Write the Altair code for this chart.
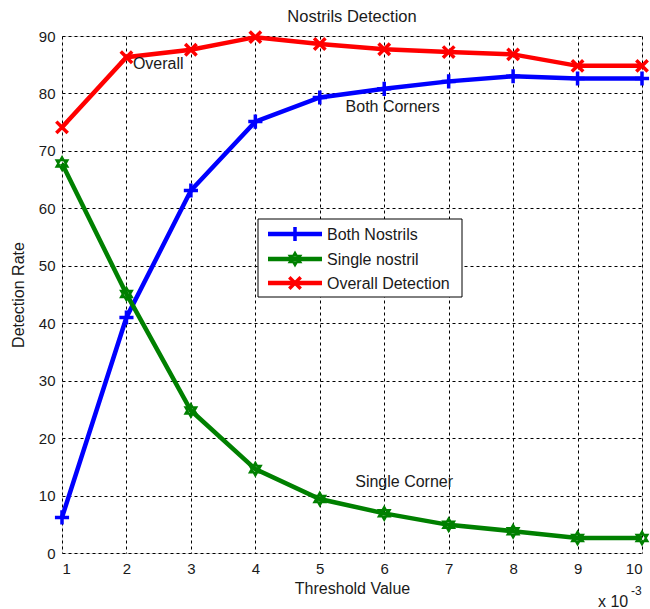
import altair as alt
import pandas as pd

thresholds = [1, 2, 3, 4, 5, 6, 7, 8, 9, 10]
both_nostrils = [6.2, 41.0, 63.1, 75.1, 79.3, 80.8, 82.1, 83.0, 82.6, 82.6]
single_nostril = [67.8, 45.1, 24.8, 14.6, 9.4, 6.9, 4.9, 3.8, 2.6, 2.6]
overall = [74.1, 86.3, 87.6, 89.8, 88.6, 87.7, 87.2, 86.8, 84.8, 84.8]

series_names = ["Both Nostrils", "Single nostril", "Overall Detection"]
series_colors = ["#0000FF", "#008000", "#FF0000"]
series_values = [both_nostrils, single_nostril, overall]

PLUS = "M-1,0L1,0M0,-1L0,1"
XMARK = "M-1,-1L1,1M-1,1L1,-1"
HEX = "M0,-1L0.866,0.5L-0.866,0.5Z M0,1L0.866,-0.5L-0.866,-0.5Z"
series_shapes = [PLUS, HEX, XMARK]
series_filled = [False, True, False]
series_sizes = [200, 170, 130]

annotations = [
    {"label": "Overall", "x": 2.1, "y": 85.2},
    {"label": "Both Corners", "x": 5.4, "y": 77.7},
    {"label": "Single Corner", "x": 5.55, "y": 12.4},
]

FONT = "Liberation Sans"
TXT = "#1a1a1a"

rows = []
for name, vals in zip(series_names, series_values):
    for t, v in zip(thresholds, vals):
        rows.append({"series": name, "threshold": t, "rate": v})
df = pd.DataFrame(rows)

xscale = alt.Scale(domain=[1, 10], nice=False)
yscale = alt.Scale(domain=[0, 90], nice=False)

x_enc = alt.X(
    "threshold:Q", scale=xscale, title="Threshold Value",
    axis=alt.Axis(values=thresholds, format="d", grid=True, gridDash=[3, 3],
                  gridColor="black", gridOpacity=1, ticks=False, domain=False,
                  labelPadding=8, titlePadding=4, labelFont=FONT, titleFont=FONT,
                  labelFontSize=15, titleFontSize=16, labelColor=TXT,
                  titleColor=TXT, titleFontWeight="normal"),
)
y_enc = alt.Y(
    "rate:Q", scale=yscale, title="Detection Rate",
    axis=alt.Axis(values=list(range(0, 91, 10)), grid=True, gridDash=[3, 3],
                  gridColor="black", gridOpacity=1, ticks=False, domain=False,
                  labelPadding=7, titlePadding=12, labelFont=FONT, titleFont=FONT,
                  labelFontSize=15, titleFontSize=16, labelColor=TXT,
                  titleColor=TXT, titleFontWeight="normal"),
)

layers = []
for name, color, shape, filled, size in zip(series_names, series_colors, series_shapes, series_filled, series_sizes):
    sub = df[df["series"] == name]
    base = alt.Chart(sub)
    layers.append(base.mark_line(color=color, strokeWidth=4.5).encode(x=x_enc, y=y_enc))
    if filled:
        pm = base.mark_point(shape=shape, filled=True, color=color, size=size, opacity=1,
                             stroke=color, strokeWidth=2)
    else:
        pm = base.mark_point(shape=shape, filled=False, color=color, size=size, opacity=1,
                             strokeWidth=3.5)
    layers.append(pm.encode(x=x_enc, y=y_enc))

ann_df = pd.DataFrame(annotations)
layers.append(
    alt.Chart(ann_df).mark_text(align="left", baseline="middle", font=FONT, fontSize=16,
                                color=TXT).encode(x="x:Q", y="y:Q", text="label:N")
)

# legend box (pixel layout inside the plot area)
LBOX = (196, 183, 400, 261)
legend_rows_y = [198, 223, 247]
layers.append(
    alt.Chart(pd.DataFrame({"k": [0]})).mark_rect(fill="white", stroke="black", strokeWidth=1).encode(
        x=alt.value(LBOX[0]), x2=alt.value(LBOX[2]), y=alt.value(LBOX[1]), y2=alt.value(LBOX[3])
    )
)
for name, color, shape, filled, size, ly in zip(series_names, series_colors, series_shapes, series_filled, series_sizes, legend_rows_y):
    ldf = pd.DataFrame({"series": [name]})
    lb = alt.Chart(ldf)
    layers.append(lb.mark_rule(color=color, strokeWidth=4.5).encode(
        x=alt.value(206), x2=alt.value(260), y=alt.value(ly)))
    if filled:
        pm = lb.mark_point(shape=shape, filled=True, color=color, size=size, opacity=1,
                           stroke=color, strokeWidth=2)
    else:
        pm = lb.mark_point(shape=shape, filled=False, color=color, size=size, opacity=1,
                           strokeWidth=3.5)
    layers.append(pm.encode(x=alt.value(233), y=alt.value(ly)))
    layers.append(lb.mark_text(align="left", baseline="middle", font=FONT, fontSize=16,
                               color=TXT).encode(x=alt.value(265), y=alt.value(ly + 1), text="series:N"))

# "x 10^-3" exponent label
layers.append(alt.Chart(pd.DataFrame({"t": ["x 10"]})).mark_text(
    align="left", baseline="middle", font=FONT, fontSize=16, color=TXT).encode(
    x=alt.value(536), y=alt.value(566), text="t:N"))
layers.append(alt.Chart(pd.DataFrame({"t": ["-3"]})).mark_text(
    align="left", baseline="middle", font=FONT, fontSize=12, color=TXT).encode(
    x=alt.value(569), y=alt.value(555), text="t:N"))

chart = alt.layer(*layers).properties(
    width=580, height=517,
    title=alt.TitleParams("Nostrils Detection", font=FONT, fontSize=16.5, fontWeight="normal",
                          color=TXT, anchor="middle", offset=-1),
    autosize=alt.AutoSizeParams(type="none"),
    padding={"left": 62, "top": 36, "right": 8, "bottom": 56},
).configure_view(stroke="black", strokeWidth=1.2).configure(background="white")

chart.save("out.html", embed_options={"renderer": "svg", "actions": False})
